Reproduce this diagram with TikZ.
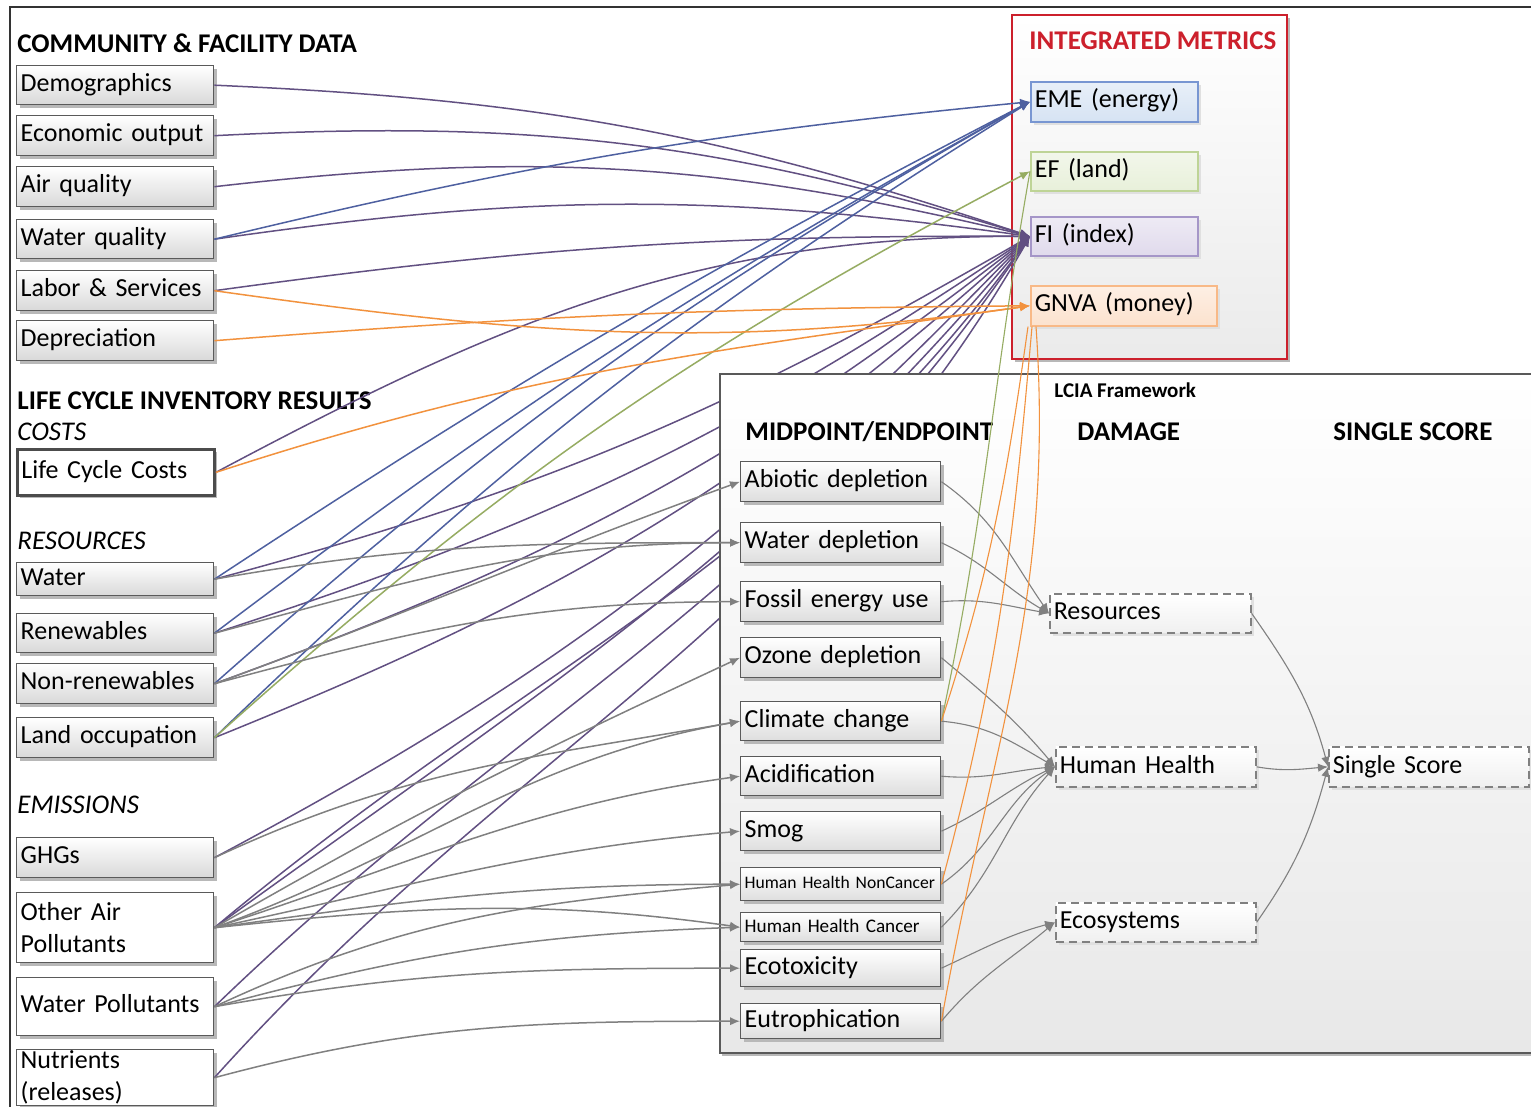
\documentclass[tikz,border=0pt]{standalone}
\usepackage{fontspec}
\setmainfont{Carlito}
\usetikzlibrary{arrows.meta,shadows}
\definecolor{bluel}{RGB}{78,96,160}
\definecolor{purl}{RGB}{98,80,130}
\definecolor{greyl}{RGB}{128,128,128}
\definecolor{orl}{RGB}{242,146,62}
\definecolor{grl}{RGB}{150,172,98}
\definecolor{boxline}{RGB}{90,90,90}
\definecolor{redbox}{RGB}{204,32,44}
\definecolor{emefill}{RGB}{214,227,243}
\definecolor{emeline}{RGB}{120,150,210}
\definecolor{effill}{RGB}{232,240,218}
\definecolor{efline}{RGB}{190,212,150}
\definecolor{fifill}{RGB}{224,218,236}
\definecolor{filine}{RGB}{165,150,200}
\definecolor{gnfill}{RGB}{252,226,206}
\definecolor{gnline}{RGB}{248,185,135}
\begin{document}
\begin{tikzpicture}[x=0.5pt,y=0.5pt,
  shad/.style={drop shadow={shadow xshift=1.5pt,shadow yshift=-1.5pt,fill=black!28,opacity=1}},
  lshad/.style={drop shadow={shadow xshift=1.5pt,shadow yshift=-1.5pt,fill=black!12,opacity=1}},
  base/.style={font=\fontsize{13}{16}\selectfont, inner xsep=2pt, inner ysep=0pt, align=left, anchor=north west},
  one/.style={text height=9pt, text depth=2.8pt},
  lbox/.style={base, one, text width=94.5pt, draw=boxline, line width=0.7pt, top color=white, bottom color=black!15, shad},
  lwbox/.style={base, text width=94.5pt, draw=boxline, line width=0.7pt, fill=white, shad},
  lccbox/.style={base, one, text width=94.5pt, draw=black!70, line width=1.4pt, fill=white, shad},
  mbox/.style={base, one, text width=96pt, draw=boxline, line width=0.7pt, top color=white, bottom color=black!13, shad},
  dbox/.style={base, one, text width=96pt, draw=greyl, line width=0.8pt, dash pattern=on 4pt off 2.5pt, top color=white, bottom color=black!6, lshad},
  metric/.style={base, one, line width=0.8pt, lshad},
  hd/.style={font=\fontsize{13.5}{16}\selectfont\bfseries, anchor=west, inner sep=0pt},
  hi/.style={font=\fontsize{13.5}{16}\selectfont\itshape, anchor=west, inner sep=0pt},
  tip/.style={-{Latex[length=5pt,width=4.2pt]}},
  pl/.style={draw=purl, line width=0.75pt, tip},
  bl/.style={draw=bluel, line width=0.75pt, tip},
  gl/.style={draw=grl, line width=0.75pt, tip},
  ol/.style={draw=orl, line width=0.75pt, tip},
  gy/.style={draw=greyl, line width=0.75pt, tip},
  dl/.style={draw=greyl, line width=0.55pt, tip},
  ol2/.style={draw=orl, line width=0.55pt},
  gl2/.style={draw=grl, line width=0.55pt}
]
\useasboundingbox (0,0) rectangle (1531,-1107);
\fill[white] (0,0) rectangle (1531,-1107);
\draw[black!80, line width=0.6pt] (10,-1107) -- (10,-7) -- (1531,-7);

% ---------- left column ----------
\node[hd] (t1) at (17,-43) {COMMUNITY \& FACILITY DATA};
\node[lbox, minimum height=19.5pt] (demo) at (16,-65) {Demographics};
\node[lbox, minimum height=20pt] (econ) at (16,-115) {Economic output};
\node[lbox, minimum height=20pt] (air) at (16,-166) {Air quality};
\node[lbox, minimum height=19.5pt] (wq) at (16,-219) {Water quality};
\node[lbox, minimum height=20pt] (labor) at (16,-270) {Labor \& Services};
\node[lbox, minimum height=20pt] (dep) at (16,-320) {Depreciation};
\node[hd] (t2) at (17,-401) {LIFE CYCLE INVENTORY RESULTS};
\node[hi] (t3) at (17,-432) {COSTS};
\node[lccbox, minimum height=23pt] (lcc) at (16,-448) {Life Cycle Costs};
\node[hi] (t4) at (17,-541) {RESOURCES};
\node[lbox, minimum height=16.5pt] (water) at (16,-562) {Water};
\node[lbox, minimum height=19.5pt] (renew) at (16,-613) {Renewables};
\node[lbox, minimum height=20pt] (nonrenew) at (16,-663) {Non-renewables};
\node[lbox, minimum height=20pt] (land) at (16,-717) {Land occupation};
\node[hi] (t5) at (17,-805) {EMISSIONS};
\node[lbox, minimum height=20pt] (ghg) at (16,-837) {GHGs};
\node[lwbox, minimum height=35pt] (oap) at (16,-892) {Other Air\\Pollutants};
\node[lwbox, one, minimum height=29pt] (wp) at (16,-977) {Water Pollutants};
\node[lwbox, minimum height=28pt] (nut) at (16,-1049) {Nutrients\\(releases)};

% ---------- integrated metrics ----------
\node[draw=redbox, line width=1.1pt, top color=white, bottom color=black!8, shad, minimum width=137.5pt, minimum height=172pt, anchor=north west, inner sep=0pt] (imbox) at (1011,-14) {};
\node[hd, text=redbox] (imt) at (1029,-41) {INTEGRATED METRICS};
\node[metric, draw=emeline, top color=emefill!55!white, bottom color=emefill, text width=79.5pt, minimum height=20pt] (eme) at (1030,-81) {EME (energy)};
\node[metric, draw=efline, top color=effill!55!white, bottom color=effill, text width=79.5pt, minimum height=19.5pt] (ef) at (1030,-151) {EF (land)};
\node[metric, draw=filine, top color=fifill!55!white, bottom color=fifill, text width=79.5pt, minimum height=19.5pt] (fi) at (1030,-216) {FI (index)};
\node[metric, draw=gnline, top color=gnfill!55!white, bottom color=gnfill, text width=89pt, minimum height=20pt] (gnva) at (1030,-285) {GNVA (money)};

% ---------- lines to metrics ----------
\draw[pl] (demo.east) to[bend left=8] (fi.west);
\draw[pl] (econ.east) to[bend left=10] (fi.west);
\draw[pl] (air.east) to[bend left=10] (fi.west);
\draw[pl] (wq.east) to[bend left=8] (fi.west);
\draw[pl] (labor.east) to[bend left=4] (fi.west);
\draw[pl] (lcc.east) to[out=28,in=180] (fi.west);
\draw[pl] (water.east) to[out=15,in=210] (fi.west);
\draw[pl] (renew.east) to[out=18,in=214] (fi.west);
\draw[pl] (nonrenew.east) to[out=20,in=218] (fi.west);
\draw[pl] (land.east) to[out=22,in=222] (fi.west);
\draw[pl] (ghg.east) to[out=28,in=226] (fi.west);
\draw[pl] (oap.east) to[out=36,in=230] (fi.west);
\draw[pl] (oap.east) to[out=40,in=234] (fi.west);
\draw[pl] (wp.east) to[out=44,in=236] (fi.west);
\draw[pl] (nut.east) to[out=48,in=240] (fi.west);

\draw[bl] (wq.east) to[bend left=4] (eme.west);
\draw[bl] (water.east) to[bend left=3] (eme.west);
\draw[bl] (renew.east) to[bend left=4] (eme.west);
\draw[bl] (nonrenew.east) to[bend left=6] (eme.west);
\draw[bl] (land.east) to[bend left=6] (eme.west);

\draw[gl] (land.east) to[bend left=7] (ef.west);

\draw[ol] (labor.east) to[out=-8,in=188] (gnva.west);
\draw[ol] (dep.east) to[bend left=2] (gnva.west);
\draw[ol] (lcc.east) to[out=18,in=188] (gnva.west);

% ---------- LCIA framework ----------
\fill[black!28] (722,-1052) rectangle (1531,-1056);
\node[top color=white, bottom color=black!9, minimum width=405.5pt, minimum height=339pt, anchor=north west, inner sep=0pt] (lcia) at (720,-374) {};
\draw[black!65, line width=1pt] (lcia.north east) -- (lcia.north west) -- (lcia.south west) -- (lcia.south east);
\node[font=\fontsize{10.5}{12}\selectfont\bfseries, anchor=west, inner sep=0pt] (lt) at (1054,-390) {LCIA Framework};
\node[hd] (mt) at (745,-432) {MIDPOINT/ENDPOINT};
\node[hd] (dt) at (1077,-432) {DAMAGE};
\node[hd] (st) at (1333,-432) {SINGLE SCORE};

\node[mbox, minimum height=20pt] (abiotic) at (740,-461) {Abiotic depletion};
\node[mbox, minimum height=20pt] (waterdep) at (740,-522) {Water depletion};
\node[mbox, minimum height=20pt] (fossil) at (740,-581) {Fossil energy use};
\node[mbox, minimum height=20pt] (ozone) at (740,-637) {Ozone depletion};
\node[mbox, minimum height=19.5pt] (climate) at (740,-701) {Climate change};
\node[mbox, minimum height=19.5pt] (acid) at (740,-756) {Acidification};
\node[mbox, minimum height=19.5pt] (smog) at (740,-811) {Smog};
\node[mbox, minimum height=16.5pt, font=\fontsize{8.8}{10}\selectfont, text height=6.5pt, text depth=2pt] (hhnc) at (740,-867) {Human Health NonCancer};
\node[mbox, minimum height=14.5pt, font=\fontsize{9.6}{11}\selectfont, text height=7pt, text depth=2pt] (hhc) at (740,-912) {Human Health Cancer};
\node[mbox, minimum height=18.5pt] (ecotox) at (740,-949) {Ecotoxicity};
\node[mbox, minimum height=17.5pt] (eutro) at (740,-1003) {Eutrophication};

\node[dbox, text width=96.5pt, minimum height=19.5pt] (res) at (1049,-593) {Resources};
\node[dbox, minimum height=20pt] (hh) at (1055,-746) {Human Health};
\node[dbox, minimum height=19.5pt] (eco) at (1055,-902) {Ecosystems};
\node[dbox, minimum height=20pt] (ss) at (1328,-746) {Single Score};

% ---------- inventory to midpoint ----------
\draw[gy] (nonrenew.east) to[out=20,in=200] (abiotic.west);
\draw[gy] (water.east) to[out=10,in=180] (waterdep.west);
\draw[gy] (renew.east) to[out=15,in=180] (waterdep.west);
\draw[gy] (nonrenew.east) to[out=15,in=180] (fossil.west);
\draw[gy] (oap.east) to[out=30,in=205] (ozone.west);
\draw[gy] (ghg.east) to[out=25,in=190] (climate.west);
\draw[gy] (oap.east) to[out=20,in=190] (climate.west);
\draw[gy] (oap.east) to[out=18,in=188] (acid.west);
\draw[gy] (oap.east) to[out=12,in=185] (smog.west);
\draw[gy] (oap.east) to[out=8,in=180] (hhnc.west);
\draw[gy] (oap.east) to[out=6,in=172] (hhc.west);
\draw[gy] (wp.east) to[out=25,in=185] (hhnc.west);
\draw[gy] (wp.east) to[out=15,in=182] (hhc.west);
\draw[gy] (wp.east) to[out=10,in=180] (ecotox.west);
\draw[gy] (nut.east) to[out=15,in=180] (eutro.west);

% ---------- midpoint to damage ----------
\draw[dl] (abiotic.east) to[out=-35,in=125] (res.west);
\draw[dl] (waterdep.east) to[out=-25,in=150] (res.west);
\draw[dl] (fossil.east) to[out=5,in=170] (res.west);
\draw[dl] (ozone.east) to[out=-40,in=130] (hh.west);
\draw[dl] (climate.east) to[out=-5,in=150] (hh.west);
\draw[dl] (acid.east) to[out=-5,in=185] (hh.west);
\draw[dl] (smog.east) to[out=25,in=205] (hh.west);
\draw[dl] (hhnc.east) to[out=35,in=215] (hh.west);
\draw[dl] (hhc.east) to[out=45,in=228] (hh.west);
\draw[dl] (ecotox.east) to[out=25,in=195] (eco.west);
\draw[dl] (eutro.east) to[out=50,in=220] (eco.west);
\draw[dl] (res.east) to[out=-55,in=105] (ss.west);
\draw[dl] (hh.east) to[out=-10,in=185] (ss.west);
\draw[dl] (eco.east) to[out=55,in=255] (ss.west);

% ---------- midpoint to metrics ----------
\draw[gl2] (climate.east) to[out=78,in=260] (ef.west);
\draw[ol2] (climate.east) to[out=72,in=262] ([xshift=-1pt]gnva.south west);
\draw[ol2] (hhnc.east) to[out=75,in=265] ([xshift=1pt]gnva.south west);
\draw[ol2] (eutro.east) to[out=80,in=274] ([xshift=3pt]gnva.south west);
\end{tikzpicture}
\end{document}
